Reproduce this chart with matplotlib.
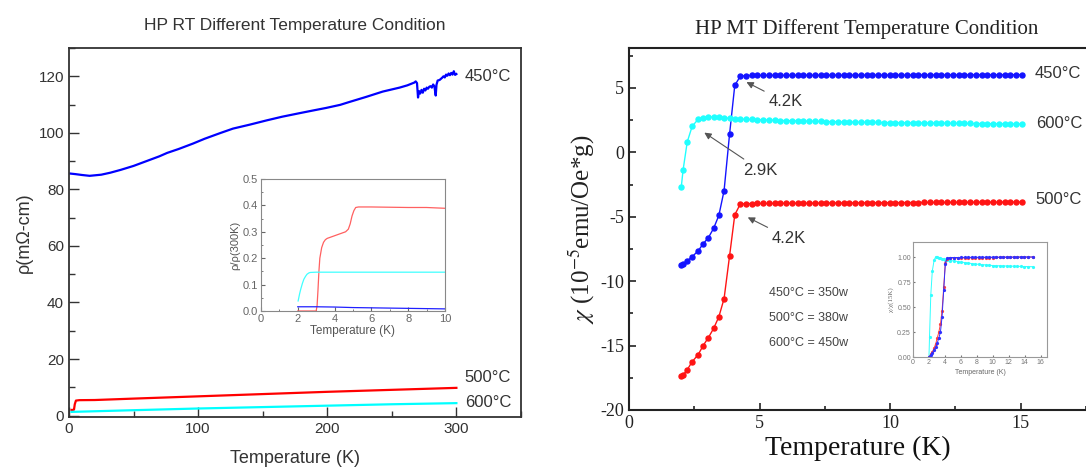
import matplotlib
matplotlib.use("Agg")
import matplotlib.pyplot as plt
from matplotlib.ticker import MultipleLocator, FormatStrFormatter

plt.rcParams['mathtext.fontset'] = 'stix'
plt.rcParams['axes.unicode_minus'] = False
SANS = 'Liberation Sans'
SERIF = 'Liberation Serif'

# ---------------- left panel: resistivity vs T ----------------
t450 = [1, 5, 10, 16, 25, 32, 40, 50, 60, 70, 76, 85, 96, 105, 117, 127, 140, 153, 165,
        179, 190, 199, 210, 217, 230, 243, 256, 262, 267.5, 268.5, 269.5, 270.3, 271, 272,
        273, 274, 275, 276, 277, 278, 279, 280, 281, 282, 283, 284, 284.6, 285.5, 287, 289,
        290, 291, 292, 293, 294, 295, 296, 297, 298, 299, 300]
rho450 = [85.6, 85.4, 85.1, 84.8, 85.2, 85.9, 86.9, 88.3, 90.0, 91.7, 92.9, 94.3, 96.2, 97.9,
          99.9, 101.5, 102.9, 104.4, 105.7, 107.0, 108.0, 108.8, 109.9, 110.9, 112.7, 114.6,
          116.0, 116.8, 117.8, 118.2, 117.6, 112.5, 114.8, 113.9, 115.2, 114.2, 115.6, 115.0,
          116.0, 115.6, 116.3, 116.5, 116.0, 117.1, 116.4, 113.2, 117.0, 118.5, 118.7, 119.5,
          120.0, 119.6, 120.6, 120.2, 121.0, 120.4, 121.2, 120.6, 121.8, 120.5, 120.8]
t500 = [2, 3, 3.9, 4.5, 5.4, 8, 20, 50, 100, 150, 200, 250, 300]
rho500 = [2.0, 2.0, 2.1, 4.0, 5.3, 5.45, 5.5, 6.0, 6.8, 7.6, 8.4, 9.1, 9.8]
t600 = [2, 10, 50, 100, 150, 200, 250, 300]
rho600 = [1.3, 1.4, 1.9, 2.5, 3.0, 3.5, 4.0, 4.4]

# left inset: rho / rho(300K)
ti_red = [2.0, 2.5, 3.0, 3.05, 3.1, 3.15, 3.2, 3.3, 3.4, 3.5, 3.6, 3.8, 4.0, 4.2, 4.4, 4.6,
          4.75, 4.85, 4.95, 5.05, 5.15, 5.3, 6.0, 7.0, 8.0, 9.0, 10.0]
ri_red = [0.0, 0.0, 0.0, 0.02, 0.08, 0.15, 0.2, 0.24, 0.26, 0.27, 0.275, 0.28, 0.285, 0.29,
          0.295, 0.30, 0.31, 0.33, 0.36, 0.38, 0.392, 0.394, 0.394, 0.393, 0.392, 0.392, 0.389]
ti_cyan = [2.02, 2.1, 2.16, 2.25, 2.33, 2.42, 2.5, 2.6, 2.68, 3.0, 4.0, 6.0, 8.0, 10.0]
ri_cyan = [0.038, 0.065, 0.082, 0.104, 0.12, 0.131, 0.139, 0.144, 0.146, 0.147, 0.147, 0.147,
           0.147, 0.147]
ti_blue = [2.0, 3.0, 4.0, 5.0, 6.0, 7.0, 8.0, 9.0, 10.0]
ri_blue = [0.016, 0.016, 0.015, 0.013, 0.012, 0.011, 0.010, 0.009, 0.008]

# ---------------- right panel: susceptibility vs T ----------------
t_low = [2.0, 2.07, 2.23, 2.42, 2.65, 2.84, 3.04, 3.24, 3.44, 3.64, 3.85, 4.05]
t_flat = [4.26, 4.48, 4.70, 4.92, 5.14, 5.36, 5.58, 5.80, 6.02, 6.24, 6.46, 6.68, 6.90, 7.12,
          7.34, 7.56, 7.78, 8.00, 8.22, 8.44, 8.66, 8.88, 9.10, 9.32, 9.54, 9.76, 9.98, 10.20,
          10.42, 10.64, 10.86, 11.08, 11.30, 11.52, 11.74, 11.96, 12.18, 12.40, 12.62, 12.84,
          13.06, 13.28, 13.50, 13.72, 13.94, 14.16, 14.38, 14.60, 14.82, 15.04]
chi450_low = [-8.74, -8.68, -8.43, -8.1, -7.64, -7.1, -6.62, -5.9, -4.9, -2.98, 1.4, 5.2]
chi450_flat = [5.90, 5.96, 5.97, 5.97, 5.98, 5.97, 5.98, 5.98, 5.97, 5.98, 5.98, 5.99, 5.98,
               5.98, 5.99, 5.98, 5.99, 5.99, 5.98, 5.99, 5.99, 6.00, 5.99, 5.99, 6.00, 5.99,
               6.00, 6.00, 5.99, 6.00, 6.00, 6.01, 6.00, 6.00, 6.01, 6.00, 6.01, 6.01, 6.00,
               6.01, 6.01, 6.02, 6.01, 6.01, 6.02, 6.01, 6.02, 6.02, 6.02, 6.02]
chi500_low = [-17.36, -17.3, -16.87, -16.25, -15.7, -15.0, -14.38, -13.67, -12.77, -11.36,
              -8.05, -4.85]
chi500_flat = [-4.02, -3.98, -3.98, -3.97, -3.97, -3.97, -3.96, -3.96, -3.96, -3.95, -3.95,
               -3.95, -3.95, -3.94, -3.94, -3.94, -3.93, -3.93, -3.93, -3.93, -3.92, -3.92,
               -3.92, -3.92, -3.91, -3.91, -3.91, -3.91, -3.90, -3.90, -3.90, -3.90, -3.89,
               -3.89, -3.89, -3.89, -3.89, -3.88, -3.88, -3.88, -3.88, -3.87, -3.87, -3.87,
               -3.87, -3.87, -3.86, -3.86, -3.86, -3.86]
chi600_low = [-2.72, -1.38, 0.81, 2.03, 2.57, 2.7, 2.75, 2.74, 2.72, 2.68, 2.64, 2.61]
chi600_flat = [2.58, 2.56, 2.55, 2.53, 2.52, 2.50, 2.49, 2.47, 2.46, 2.45, 2.44, 2.43, 2.42,
               2.41, 2.40, 2.39, 2.38, 2.37, 2.36, 2.35, 2.35, 2.34, 2.33, 2.33, 2.32, 2.31,
               2.31, 2.30, 2.30, 2.29, 2.29, 2.28, 2.28, 2.27, 2.27, 2.26, 2.26, 2.25, 2.25,
               2.24, 2.24, 2.23, 2.23, 2.22, 2.22, 2.21, 2.21, 2.20, 2.20, 2.19]

# right inset: chi / chi(15K)
tn_flat = [4.26, 4.70, 5.14, 5.58, 6.02, 6.46, 6.90, 7.34, 7.78, 8.22, 8.66, 9.10, 9.54,
           9.98, 10.42, 10.86, 11.30, 11.74, 12.18, 12.62, 13.06, 13.50, 13.94, 14.38, 15.04]
n450_low = [0.0, 0.005, 0.02, 0.04, 0.07, 0.1, 0.14, 0.19, 0.25, 0.4, 0.67, 0.93]
n450_flat = [0.99, 0.995, 0.995, 0.995, 0.996, 0.996, 0.996, 0.997, 0.997, 0.997, 0.997,
             0.998, 0.998, 0.998, 0.998, 0.998, 0.999, 0.999, 0.999, 0.999, 0.999, 1.0, 1.0,
             1.0, 1.0]
n500_low = [0.0, 0.005, 0.03, 0.05, 0.09, 0.13, 0.19, 0.25, 0.33, 0.46, 0.7, 0.94]
n500_flat = [0.985, 0.99, 0.99, 0.99, 0.991, 0.991, 0.992, 0.992, 0.993, 0.993, 0.994, 0.994,
             0.995, 0.995, 0.996, 0.996, 0.997, 0.997, 0.998, 0.998, 0.999, 0.999, 1.0, 1.0,
             1.0]
n600_low = [0.0, 0.2, 0.62, 0.86, 0.97, 1.0, 1.0, 0.995, 0.99, 0.985, 0.98, 0.975]
n600_flat = [0.97, 0.965, 0.96, 0.955, 0.95, 0.945, 0.94, 0.935, 0.93, 0.927, 0.924, 0.921,
             0.918, 0.915, 0.913, 0.912, 0.911, 0.91, 0.909, 0.908, 0.907, 0.906, 0.905,
             0.904, 0.903]

fig = plt.figure(figsize=(10.86, 4.70), dpi=100)
gray = '#333333'

# ---- left main ----
ax1 = fig.add_axes([0.0635, 0.1128, 0.4162, 0.785])
ax1.plot(t450, rho450, color='#0000ff', lw=1.6)
ax1.plot(t500, rho500, color='#ff0000', lw=1.6)
ax1.plot(t600, rho600, color='#00ffff', lw=1.6)
ax1.set_xlim(0, 350)
ax1.set_ylim(-0.5, 130)
ax1.xaxis.set_major_locator(MultipleLocator(100))
ax1.xaxis.set_minor_locator(MultipleLocator(50))
ax1.yaxis.set_major_locator(MultipleLocator(20))
ax1.yaxis.set_minor_locator(MultipleLocator(10))
ax1.tick_params(which='both', direction='in', colors=gray, labelsize=11)
ax1.tick_params(which='major', length=7, width=1)
ax1.tick_params(which='minor', length=4, width=1)
for lab in ax1.get_xticklabels() + ax1.get_yticklabels():
    lab.set_family(SANS)
for s in ax1.spines.values():
    s.set_color(gray)
    s.set_linewidth(1.3)
ax1.set_xlabel('Temperature (K)', family=SANS, fontsize=13, color=gray, labelpad=10)
ax1.set_ylabel('ρ(mΩ-cm)', family=SANS, fontsize=13, color=gray, labelpad=4)
ax1.set_title('HP RT Different Temperature Condition', family=SANS, fontsize=12.5,
              color=gray, pad=13)
ax1.text(306, 120, '450°C', family=SANS, fontsize=12, color=gray, va='center')
ax1.text(306, 13.6, '500°C', family=SANS, fontsize=12, color=gray, va='center')
ax1.text(307, 4.7, '600°C', family=SANS, fontsize=12, color=gray, va='center')

# ---- left inset ----
axi = fig.add_axes([0.2403, 0.3383, 0.1694, 0.2809])
axi.plot(ti_red, ri_red, color='#ff6060', lw=0.9)
axi.plot(ti_cyan, ri_cyan, color='#40ffff', lw=0.9)
axi.plot(ti_blue, ri_blue, color='#2020ff', lw=0.9)
axi.set_xlim(0, 10)
axi.set_ylim(0, 0.5)
axi.xaxis.set_major_locator(MultipleLocator(2))
axi.xaxis.set_minor_locator(MultipleLocator(1))
axi.yaxis.set_major_locator(MultipleLocator(0.1))
axi.yaxis.set_minor_locator(MultipleLocator(0.05))
axi.yaxis.set_major_formatter(FormatStrFormatter('%.1f'))
axi.tick_params(which='both', direction='in', colors='#666666', labelsize=8, pad=2)
axi.tick_params(which='major', length=3)
axi.tick_params(which='minor', length=1.5)
for lab in axi.get_xticklabels() + axi.get_yticklabels():
    lab.set_family(SANS)
for s in axi.spines.values():
    s.set_color('#888888')
    s.set_linewidth(0.8)
axi.set_xlabel('Temperature (K)', family=SANS, fontsize=8.5, color='#555555', labelpad=1)
axi.set_ylabel('ρ/ρ(300K)', family=SANS, fontsize=8, color='#555555', labelpad=2)

# ---- right main ----
ax2 = fig.add_axes([0.5792, 0.1277, 0.4208, 0.7702])
mk = dict(marker='o', markersize=3.6, lw=1.0)
ax2.plot(t_low + t_flat, chi450_low + chi450_flat, color='#1414ff', **mk)
ax2.plot(t_low + t_flat, chi600_low + chi600_flat, color='#20ffff', **mk)
ax2.plot(t_low + t_flat, chi500_low + chi500_flat, color='#ff1414', **mk)
ax2.set_xlim(0, 17.5)
ax2.set_ylim(-20, 8.1)
ax2.xaxis.set_major_locator(MultipleLocator(5))
ax2.xaxis.set_minor_locator(MultipleLocator(2.5))
ax2.yaxis.set_major_locator(MultipleLocator(5))
ax2.yaxis.set_minor_locator(MultipleLocator(2.5))
ax2.tick_params(which='both', direction='in', colors='#222222', labelsize=13)
ax2.tick_params(which='major', length=5, width=1.2)
ax2.tick_params(which='minor', length=3, width=1.2)
for lab in ax2.get_xticklabels() + ax2.get_yticklabels():
    lab.set_family(SERIF)
for s in ax2.spines.values():
    s.set_color('#222222')
    s.set_linewidth(1.5)
ax2.spines['right'].set_visible(False)
ax2.set_xlabel('Temperature (K)', family=SERIF, fontsize=20, color='#111111', labelpad=3)
ax2.set_ylabel(r'$\chi$ (10$^{-5}$emu/Oe*g)', family=SERIF, fontsize=18, color='#222222',
               labelpad=2)
ax2.set_title('HP MT Different Temperature Condition', family=SERIF, fontsize=15,
              color='#222222', pad=10, x=0.52)
ax2.text(15.54, 6.14, '450°C', family=SANS, fontsize=12, color=gray, va='center')
ax2.text(15.6, 2.24, '600°C', family=SANS, fontsize=12, color=gray, va='center')
ax2.text(15.58, -3.65, '500°C', family=SANS, fontsize=12, color=gray, va='center')
arr = dict(arrowstyle='-|>', color='#555555', lw=0.8, mutation_scale=10, shrinkA=1, shrinkB=1)
ax2.annotate('4.2K', xy=(4.45, 5.5), xytext=(5.33, 3.91), family=SANS, fontsize=12,
             color=gray, va='center', ha='left', arrowprops=arr)
ax2.annotate('2.9K', xy=(2.84, 1.59), xytext=(4.37, -1.38), family=SANS, fontsize=12,
             color=gray, va='center', ha='left', arrowprops=arr)
ax2.annotate('4.2K', xy=(4.5, -5.0), xytext=(5.46, -6.65), family=SANS, fontsize=12,
             color=gray, va='center', ha='left', arrowprops=arr)
ax2.text(5.36, -10.9, '450°C = 350w', family=SANS, fontsize=9, color='#444444', va='center')
ax2.text(5.36, -12.85, '500°C = 380w', family=SANS, fontsize=9, color='#444444', va='center')
ax2.text(5.36, -14.77, '600°C = 450w', family=SANS, fontsize=9, color='#444444', va='center')

# ---- right inset ----
ax3 = fig.add_axes([0.8407, 0.2404, 0.1234, 0.2447])
mk2 = dict(marker='o', markersize=1.3, lw=0.7)
ax3.plot(t_low + tn_flat, n600_low + n600_flat, color='#30ffff', **mk2)
ax3.plot(t_low + tn_flat, n500_low + n500_flat, color='#ff4040', **mk2)
ax3.plot(t_low + tn_flat, n450_low + n450_flat, color='#3030ff', **mk2)
ax3.set_xlim(0, 16.8)
ax3.set_ylim(0, 1.15)
ax3.xaxis.set_major_locator(MultipleLocator(2))
ax3.yaxis.set_major_locator(MultipleLocator(0.25))
ax3.yaxis.set_major_formatter(FormatStrFormatter('%.2f'))
ax3.tick_params(which='both', direction='in', colors='#777777', labelsize=5, pad=1.5,
                length=1.5)
for lab in ax3.get_xticklabels() + ax3.get_yticklabels():
    lab.set_family(SANS)
for s in ax3.spines.values():
    s.set_color('#999999')
    s.set_linewidth(0.8)
ax3.set_xlabel('Temperature (K)', family=SANS, fontsize=5, color='#666666', labelpad=2)
ax3.set_ylabel('χ/χ(15K)', family=SERIF, fontsize=5, color='#666666', labelpad=2)

fig.savefig('out.png', dpi=100)
